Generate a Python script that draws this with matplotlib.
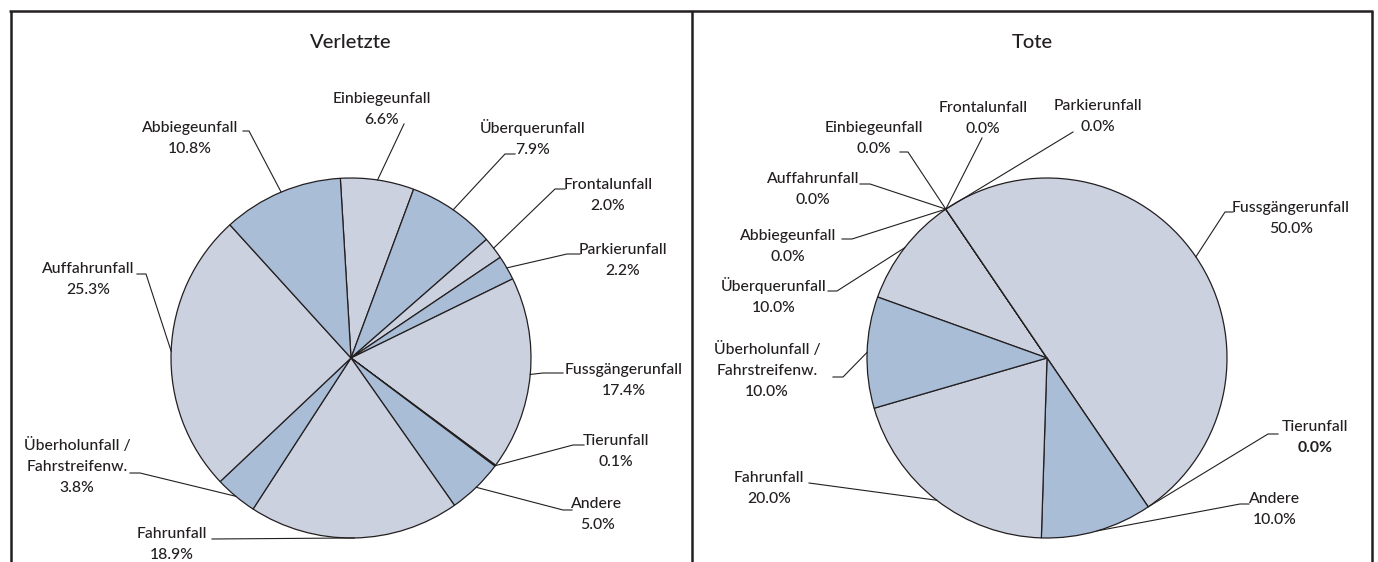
import matplotlib
matplotlib.use('Agg')
import matplotlib.pyplot as plt
import numpy as np

plt.rcParams['font.family'] = ['Lato', 'DejaVu Sans']

W, H = 1378, 562
R = 180
EDGE = '#231f20'
HELL = '#cbd1df'
DUNKEL = '#a9bdd7'

# Verletzte -------------------------------------------------------------------
verletzte_kat = ['Einbiegeunfall', 'Überquerunfall', 'Frontalunfall', 'Parkierunfall',
                 'Fussgängerunfall', 'Tierunfall', 'Andere', 'Fahrunfall',
                 'Überholunfall /\nFahrstreifenw.', 'Auffahrunfall', 'Abbiegeunfall']
verletzte_pct = [6.6, 7.9, 2.0, 2.2, 17.4, 0.1, 5.0, 18.9, 3.8, 25.3, 10.8]

# Tote ------------------------------------------------------------------------
tote_kat = ['Überquerunfall', 'Abbiegeunfall', 'Auffahrunfall', 'Einbiegeunfall',
            'Frontalunfall', 'Parkierunfall', 'Fussgängerunfall', 'Tierunfall',
            'Andere', 'Fahrunfall', 'Überholunfall /\nFahrstreifenw.']
tote_pct = [10.0, 0.0, 0.0, 0.0, 0.0, 0.0, 50.0, 0.0, 10.0, 20.0, 10.0]

verletzte_farben = [HELL, DUNKEL, HELL, DUNKEL, HELL, HELL, DUNKEL, HELL, DUNKEL, HELL, DUNKEL]
tote_farben = [HELL, DUNKEL, HELL, DUNKEL, HELL, DUNKEL, HELL, DUNKEL, DUNKEL, HELL, DUNKEL]

# label layout in pixel (x text, y first line, leader x, leader y, tick)
verletzte_pos = {
    'Einbiegeunfall': (382, 98, 404, 124, 0),
    'Überquerunfall': (533, 128, 515, 154, -10),
    'Frontalunfall': (608, 184, 565, 189, -10),
    'Parkierunfall': (623, 249, 580, 254, -13),
    'Fussgängerunfall': (624, 369, 563, 373, -20),
    'Tierunfall': (616, 440, 584, 445, -11),
    'Andere': (597, 503, 572, 510, -9),
    'Fahrunfall': (172, 533, 212, 539, 0),
    'Überholunfall /\nFahrstreifenw.': (77, 445, 130, 473, 10),
    'Auffahrunfall': (88, 268, 137, 274, 9),
    'Abbiegeunfall': (190, 127, 243, 131, 6),
}
tote_pos = {
    'Einbiegeunfall': (874, 127, 900, 152, 8),
    'Frontalunfall': (983, 107, 982, 138, 0),
    'Parkierunfall': (1098, 105, 1073, 132, 0),
    'Auffahrunfall': (813, 178, 860, 184, 10),
    'Abbiegeunfall': (788, 235, 842, 239, 10),
    'Überquerunfall': (774, 286, 828, 291, 9),
    'Überholunfall /\nFahrstreifenw.': (767, 349, 833, 377, 10),
    'Fahrunfall': (769, 477, 809, 483, 0),
    'Tierunfall': (1315, 426, 1278, 434, -10),
    'Andere': (1275, 498, 1249, 504, -9),
    'Fussgängerunfall': (1291, 207, 1233, 212, -8),
}

fig = plt.figure(figsize=(W / 100, H / 100), dpi=100)
ax = fig.add_axes([0, 0, 1, 1])


def draw_pie(kat, pct, farben, center, start, pos, fett=()):
    cx, cy = center[0], H - center[1]
    wedges, _ = ax.pie(pct, colors=farben, startangle=start, counterclock=False,
                       center=(cx, cy), radius=R,
                       wedgeprops=dict(edgecolor=EDGE, linewidth=0.9))
    for name, val, w in zip(kat, pct, wedges):
        tx, ty, lx, ly, tick = pos[name]
        mid = np.deg2rad((w.theta1 + w.theta2) / 2)
        px, py = cx + R * np.cos(mid), cy + R * np.sin(mid)
        ax.plot([lx, lx + tick, px], [H - ly, H - ly, py], color=EDGE, lw=0.8)
        zeilen = name.split('\n') + [f'{val:.1f}%']
        for i, z in enumerate(zeilen):
            gewicht = 'bold' if (i == len(zeilen) - 1 and name in fett) else 500
            ax.text(tx, H - (ty + 5 + i * 21), z, ha='center', va='baseline',
                    fontsize=11.3, color=EDGE, fontweight=gewicht)


draw_pie(verletzte_kat, verletzte_pct, verletzte_farben, (351, 358), 93.4, verletzte_pos)
draw_pie(tote_kat, tote_pct, tote_farben, (1047, 358), 160.2, tote_pos, fett=('Tierunfall',))

ax.text(351, H - 48, 'Verletzte', ha='center', va='baseline', fontsize=14.5,
        color=EDGE, fontweight=500)
ax.text(1032, H - 48, 'Tote', ha='center', va='baseline', fontsize=14.5,
        color=EDGE, fontweight=500)

# frame
ax.plot([8.5, 1373], [H - 11, H - 11], color=EDGE, lw=1.8, solid_capstyle='butt')
for x in [10.5, 691.5, 1371.5]:
    ax.plot([x, x], [H - 11, 0], color=EDGE, lw=1.8, solid_capstyle='butt')

ax.set_xlim(0, W)
ax.set_ylim(0, H)
ax.set_aspect('equal')
ax.axis('off')

fig.savefig('out.png', dpi=100, facecolor='white')
